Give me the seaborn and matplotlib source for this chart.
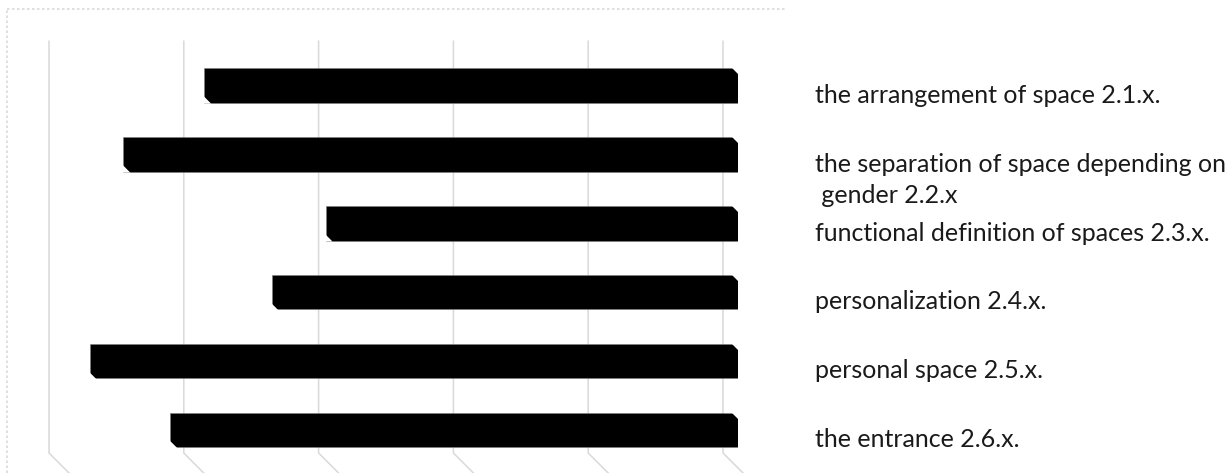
import numpy as np
import pandas as pd
import matplotlib
matplotlib.use("Agg")
import matplotlib.pyplot as plt
import seaborn as sns
from matplotlib.transforms import ScaledTranslation, blended_transform_factory
from matplotlib.patches import Polygon

# data
categories = ["the arrangement of space 2.1.x.",
              "the separation of space depending on\n gender 2.2.x",
              "functional definition of spaces 2.3.x.",
              "personalization 2.4.x.",
              "personal space 2.5.x.",
              "the entrance 2.6.x."]
scores = [3.96, 4.56, 3.06, 3.46, 4.81, 4.21]
grid_values = [0, 1, 2, 3, 4, 5]

df = pd.DataFrame({"category": categories, "score": scores})

sns.set_style("white")
plt.rcParams['font.family'] = ['Lato', 'DejaVu Sans']

W, H = 1231, 473
fig = plt.figure(figsize=(W / 100, H / 100), dpi=100)
# axes placed in pixel terms: zero at x=738, top of plot at y=41
ax = fig.add_axes([40 / W, 0, 698 / W, (H - 41) / H])

sns.barplot(data=df, x="score", y="category", orient="h", color="black",
            width=0.5, saturation=1, ax=ax, edgecolor="#7f7f7f", linewidth=0.4,
            zorder=3)

px = 134.8  # pixels per unit
ax.set_xlim(698 / px, 0)
ytop = -(85.5 - 41) / 69
ybot = 5 + (H - 430) / 69
ax.set_ylim(ybot, ytop)

ax.set_xlabel("")
ax.set_ylabel("")
ax.set_xticks([])
ax.set_yticks([])
for s in ax.spines.values():
    s.set_visible(False)
ax.patch.set_alpha(0)

# back-wall gridlines, shifted left by the 3D depth
shift = ax.transData + ScaledTranslation(-15 / 100, 0, fig.dpi_scale_trans)
yend = 5 + (453 - 430) / 69
for v in grid_values:
    ax.plot([v, v, v - 22 / px], [ytop, yend, yend + 22 / 69],
            color="#d9d9d9", lw=1.1, transform=shift, clip_on=False, zorder=1)

# chamfered corners on the bars
fig.canvas.draw()
c = 7
for p in ax.patches:
    bb = p.get_window_extent()
    x0, y0, x1, y1 = bb.x0, bb.y0, bb.x1, bb.y1
    fig.patches.append(Polygon([[x1 - c, y1 + 1], [x1 + 1, y1 + 1], [x1 + 1, y1 - c]],
                               closed=True, facecolor="white", edgecolor="none",
                               transform=None, figure=fig))
    fig.patches.append(Polygon([[x0 - 1, y0 - 1], [x0 + c, y0 - 1], [x0 - 1, y0 + c]],
                               closed=True, facecolor="white", edgecolor="none",
                               transform=None, figure=fig))

# category labels on the right, first-line baseline at the bar bottom
lab_tr = blended_transform_factory(fig.transFigure, ax.transData)
for i, name in enumerate(categories):
    for j, line in enumerate(name.split("\n")):
        tr = lab_tr + ScaledTranslation(0, -31 * j / 100, fig.dpi_scale_trans)
        ax.text(815 / W, i + 0.25, line, transform=tr, ha="left", va="baseline",
                fontsize=18, color="#1a1a1a", clip_on=False)

# chart area border (cut off at the right and bottom)
fig.add_artist(plt.Line2D([7 / W, 785 / W], [1 - 9 / H, 1 - 9 / H], color="#d9d9d9",
                          lw=1.2, ls=(0, (1.5, 1.5))))
fig.add_artist(plt.Line2D([7 / W, 7 / W], [0, 1 - 9 / H], color="#d9d9d9",
                          lw=1.2, ls=(0, (1.5, 1.5))))

fig.savefig("out.png", dpi=100)
